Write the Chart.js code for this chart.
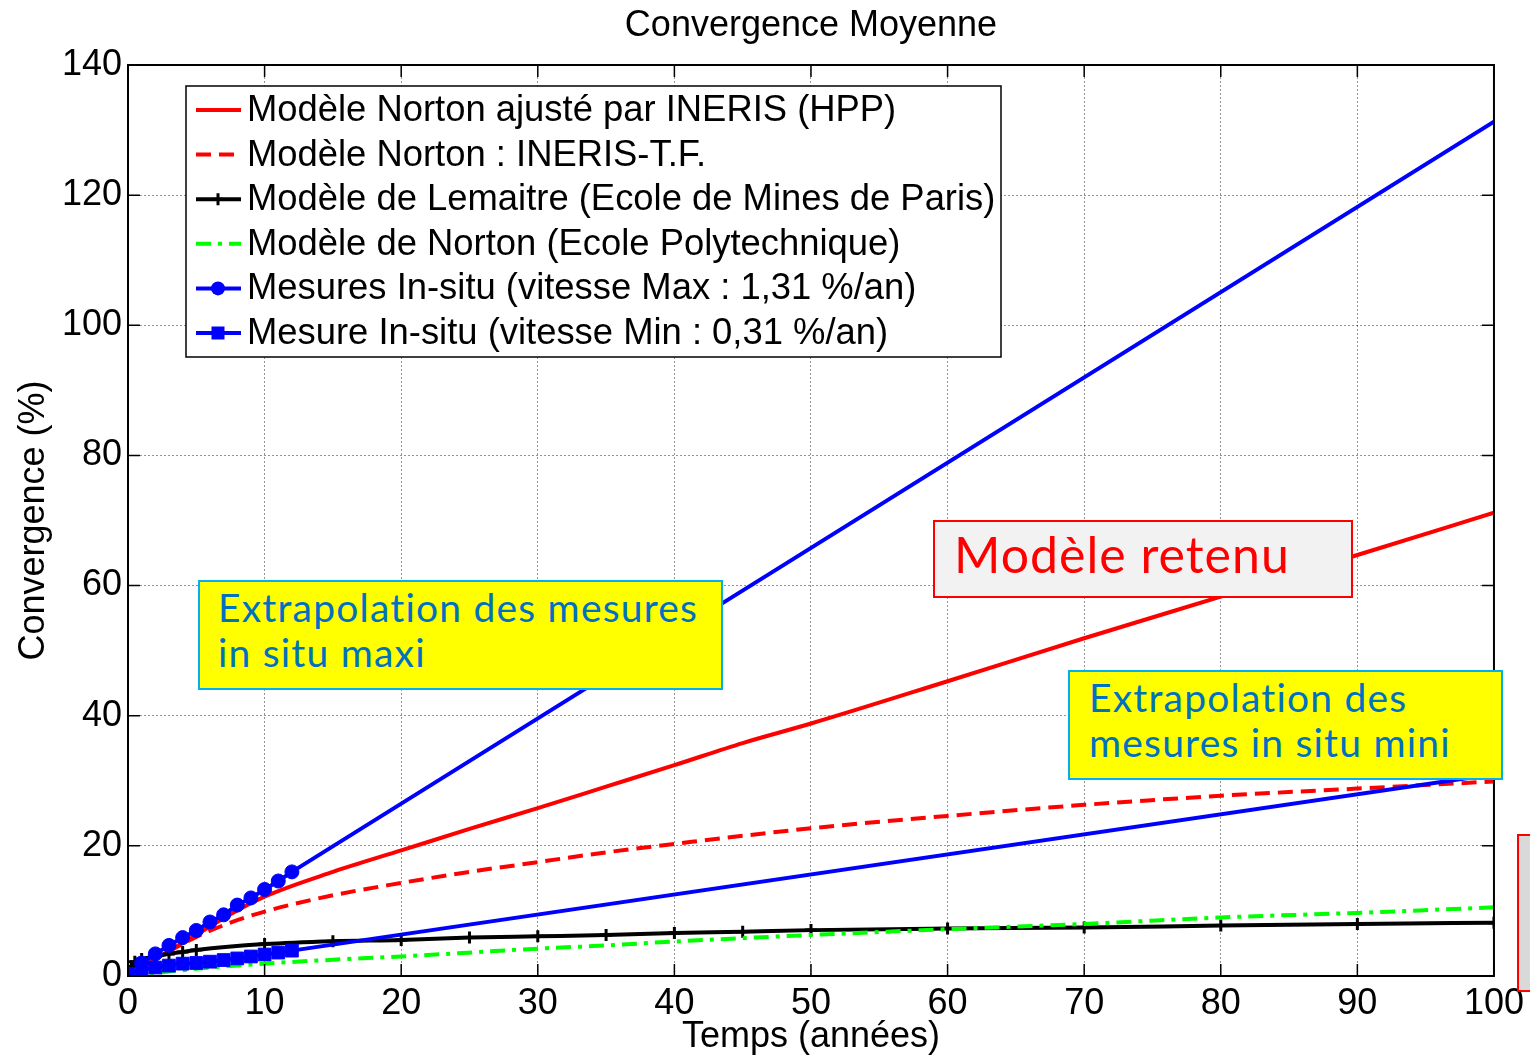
<!DOCTYPE html>
<html>
<head>
<meta charset="utf-8">
<title>Convergence Moyenne</title>
<script src="https://cdn.jsdelivr.net/npm/chart.js"></script>
<style>
  body {
    margin: 0;
    background: #fff;
    overflow: hidden;
  }
  .wrap {
    position: relative;
    width: 1530px;
    height: 1057px;
    overflow: hidden;
  }
  .note {
    position: absolute;
    box-sizing: border-box;
    font-family: Lato, "Open Sans", sans-serif;
    white-space: nowrap;
  }
  .note-blue {
    background: #ffff00;
    border: 2px solid #00b0f0;
    color: #0070c0;
    font-size: 39px;
    line-height: 45px;
    letter-spacing: 1.2px;
  }
  .note-red {
    background: #f2f2f2;
    border: 2px solid #ff0000;
    color: #ff0000;
    font-size: 50px;
    line-height: 60px;
    letter-spacing: 1px;
  }
</style>
</head>
<body>
<div class="wrap">
  <canvas id="chart"></canvas>
  <div class="note note-blue" style="left:198px; top:580px; width:525px; height:110px; padding:3px 0 0 18px;">Extrapolation des mesures<br>in situ maxi</div>
  <div class="note note-red" style="left:933px; top:520px; width:420px; height:78px; padding:2px 0 0 19px;">Modèle retenu</div>
  <div class="note note-blue" style="left:1068px; top:670px; width:435px; height:110px; padding:3px 0 0 19px;">Extrapolation des<br>mesures in situ mini</div>
  <div class="note" style="left:1517px; top:834px; width:40px; height:158px; background:#d9d9d9; border:2px solid #ff0000;"></div>
</div>

<script>
  // Modèle Norton ajusté par INERIS (HPP)
  const tempsHpp = [0, 2, 5, 7.5, 10, 15, 20, 25, 30, 35, 40, 45, 50, 60, 70, 80, 90, 100];
  const nortonHpp = [0, 2.6, 6.3, 9.5, 12.2, 16, 19.3, 22.6, 25.8, 29.1, 32.4, 35.8, 38.8, 45.3, 51.9, 58.3, 64.7, 71.2];

  // Modèle Norton : INERIS-T.F.
  const tempsTF = [0, 2, 5, 7.5, 10, 15, 20, 25, 30, 35, 40, 50, 60, 70, 80, 90, 100];
  const nortonTF = [0, 2.6, 6.0, 8.2, 9.9, 12.4, 14.3, 16.0, 17.5, 19.0, 20.3, 22.7, 24.6, 26.3, 27.7, 28.8, 29.9];

  // Modèle de Lemaitre
  const tempsLemaitre = [0, 0.25, 0.5, 1, 2, 3, 4, 5, 10, 15, 20, 25, 30, 35, 40, 45, 50, 60, 70, 80, 90, 100];
  const lemaitre = [0, 1.5, 2.2, 2.6, 3.0, 3.4, 3.7, 4.0, 4.9, 5.35, 5.55, 5.9, 6.1, 6.3, 6.6, 6.8, 7.05, 7.3, 7.45, 7.75, 8.0, 8.2];

  // Modèle de Norton (Ecole Polytechnique)
  const tempsPolytech = [0, 5, 10, 15, 20, 30, 35, 40, 50, 60, 70, 80, 90, 100];
  const polytech = [0, 1.1, 1.9, 2.5, 3.0, 4.2, 4.7, 5.3, 6.3, 7.2, 8.0, 9.0, 9.7, 10.55];

  // Mesures in-situ max (points mesurés puis extrapolation à 100 ans)
  const tempsMax = [1, 2, 3, 4, 5, 6, 7, 8, 9, 10, 11, 12, 100];
  const mesuresMax = [2.0, 3.4, 4.7, 5.9, 7.0, 8.3, 9.4, 10.9, 12.0, 13.3, 14.6, 16.0, 131.3];

  // Mesures in-situ min
  const tempsMin = [0, 1, 2, 3, 4, 5, 6, 7, 8, 9, 10, 11, 12, 100];
  const mesuresMin = [0.3, 0.9, 1.3, 1.6, 1.9, 2.0, 2.2, 2.45, 2.7, 3.0, 3.3, 3.6, 3.9, 31.0];

  const lastMesure = 12;

  const xTicks = [0, 10, 20, 30, 40, 50, 60, 70, 80, 90, 100];
  const yTicks = [0, 20, 40, 60, 80, 100, 120, 140];

  const FONT = '"Liberation Sans", Arial, sans-serif';
  Chart.defaults.font.family = FONT;
  Chart.defaults.color = '#000';

  function toXY(xs, ys) {
    return xs.map((x, i) => ({ x: x, y: ys[i] }));
  }

  function drawMarker(ctx, type, x, y, color) {
    ctx.save();
    ctx.fillStyle = color;
    ctx.strokeStyle = color;
    ctx.lineWidth = 3;
    ctx.beginPath();
    if (type === 'circle') {
      ctx.arc(x, y, 7, 0, Math.PI * 2);
      ctx.fill();
    } else if (type === 'rect') {
      ctx.fillRect(x - 6.5, y - 6.5, 13, 13);
    } else if (type === 'cross') {
      ctx.moveTo(x - 5, y); ctx.lineTo(x + 5, y);
      ctx.moveTo(x, y - 6); ctx.lineTo(x, y + 6);
      ctx.stroke();
    }
    ctx.restore();
  }

  const measuredRadius = (r) => (c) => (c.raw && c.raw.x <= lastMesure ? r : 0);

  const datasets = [
    {
      label: 'Modèle Norton ajusté par INERIS (HPP)',
      data: toXY(tempsHpp, nortonHpp),
      borderColor: '#ff0000',
      borderWidth: 4,
      pointRadius: 0,
      cubicInterpolationMode: 'monotone',
      order: 6
    },
    {
      label: 'Modèle Norton : INERIS-T.F.',
      data: toXY(tempsTF, nortonTF),
      borderColor: '#ff0000',
      borderWidth: 4,
      borderDash: [15, 8],
      pointRadius: 0,
      cubicInterpolationMode: 'monotone',
      order: 5
    },
    {
      label: 'Modèle de Lemaitre (Ecole de Mines de Paris)',
      data: toXY(tempsLemaitre, lemaitre),
      borderColor: '#000000',
      backgroundColor: '#000000',
      borderWidth: 4,
      pointStyle: 'cross',
      pointRadius: 6,
      pointBorderWidth: 3,
      cubicInterpolationMode: 'monotone',
      legendMarker: 'cross',
      order: 4
    },
    {
      label: 'Modèle de Norton (Ecole Polytechnique)',
      data: toXY(tempsPolytech, polytech),
      borderColor: '#00ff00',
      borderWidth: 4,
      borderDash: [15, 7, 4, 7],
      pointRadius: 0,
      cubicInterpolationMode: 'monotone',
      order: 3
    },
    {
      label: 'Mesures In-situ (vitesse Max : 1,31 %/an)',
      data: toXY(tempsMax, mesuresMax),
      borderColor: '#0000ff',
      backgroundColor: '#0000ff',
      borderWidth: 4,
      pointStyle: 'circle',
      pointRadius: measuredRadius(7),
      pointBorderWidth: 1,
      legendMarker: 'circle',
      order: 2
    },
    {
      label: 'Mesure In-situ (vitesse Min : 0,31 %/an)',
      data: toXY(tempsMin, mesuresMin),
      borderColor: '#0000ff',
      backgroundColor: '#0000ff',
      borderWidth: 4,
      pointStyle: 'rect',
      pointRadius: measuredRadius(9),
      pointBorderWidth: 1,
      legendMarker: 'rect',
      order: 1
    }
  ];

  // title centred over the plot area, MATLAB style
  const plotTitle = {
    id: 'plotTitle',
    afterDraw(chart) {
      const { ctx, chartArea: a } = chart;
      ctx.save();
      ctx.font = '36px ' + FONT;
      ctx.fillStyle = '#000';
      ctx.textAlign = 'center';
      ctx.textBaseline = 'middle';
      ctx.fillText('Convergence Moyenne', (a.left + a.right) / 2, 26);
      ctx.restore();
    }
  };

  // box with inward tick marks
  const frame = {
    id: 'frame',
    afterDatasetsDraw(chart) {
      const { ctx, chartArea: a, scales: { x, y } } = chart;
      ctx.save();
      ctx.strokeStyle = '#000';
      ctx.lineWidth = 2;
      ctx.strokeRect(a.left, a.top, a.right - a.left, a.bottom - a.top);
      ctx.lineWidth = 1.5;
      ctx.beginPath();
      xTicks.forEach(v => {
        const px = x.getPixelForValue(v);
        ctx.moveTo(px, a.bottom); ctx.lineTo(px, a.bottom - 12);
        ctx.moveTo(px, a.top); ctx.lineTo(px, a.top + 12);
      });
      yTicks.forEach(v => {
        const py = y.getPixelForValue(v);
        ctx.moveTo(a.left, py); ctx.lineTo(a.left + 12, py);
        ctx.moveTo(a.right, py); ctx.lineTo(a.right - 12, py);
      });
      ctx.stroke();
      ctx.restore();
    }
  };

  // legend box inside the plot, top left
  const legendBox = {
    id: 'legendBox',
    afterDatasetsDraw(chart) {
      const { ctx, chartArea: a } = chart;
      const x0 = a.left + 58, y0 = a.top + 21, w = 815, h = 271;
      ctx.save();
      ctx.fillStyle = '#fff';
      ctx.fillRect(x0, y0, w, h);
      ctx.strokeStyle = '#000';
      ctx.lineWidth = 1.5;
      ctx.strokeRect(x0, y0, w, h);
      ctx.font = '36.4px ' + FONT;
      ctx.textBaseline = 'middle';
      chart.data.datasets.forEach((ds, i) => {
        const cy = y0 + 24 + i * 44.6;
        ctx.setLineDash(ds.borderDash || []);
        ctx.strokeStyle = ds.borderColor;
        ctx.lineWidth = ds.borderWidth;
        ctx.beginPath();
        ctx.moveTo(x0 + 10, cy);
        ctx.lineTo(x0 + 55, cy);
        ctx.stroke();
        ctx.setLineDash([]);
        if (ds.legendMarker) drawMarker(ctx, ds.legendMarker, x0 + 32, cy, ds.borderColor);
        ctx.fillStyle = '#000';
        ctx.fillText(ds.label, x0 + 61, cy + 1);
      });
      ctx.restore();
    }
  };

  const canvas = document.getElementById('chart');
  canvas.width = 1530;
  canvas.height = 1057;
  canvas.style.width = '1530px';
  canvas.style.height = '1057px';

  new Chart(canvas.getContext('2d'), {
    type: 'line',
    data: { datasets: datasets },
    options: {
      responsive: false,
      animation: false,
      layout: { padding: { left: 0, right: 32, top: 65, bottom: 0 } },
      plugins: {
        legend: { display: false },
        tooltip: { enabled: false },
        title: { display: false }
      },
      scales: {
        x: {
          type: 'linear',
          min: 0,
          max: 100,
          afterBuildTicks: (s) => { s.ticks = xTicks.map(v => ({ value: v })); },
          afterFit: (s) => { s.height = 81; },
          ticks: { font: { size: 36 }, padding: 6, maxRotation: 0 },
          grid: { color: 'rgba(0,0,0,0.42)', lineWidth: 1, drawTicks: false },
          border: { display: false, dash: [2, 2] },
          title: {
            display: true,
            text: 'Temps (années)',
            font: { size: 36, lineHeight: 1.1 },
            padding: { top: 0, bottom: 0 }
          }
        },
        y: {
          min: 0,
          max: 140,
          afterBuildTicks: (s) => { s.ticks = yTicks.map(v => ({ value: v })); },
          afterFit: (s) => { s.width = 128; },
          ticks: { font: { size: 36 }, padding: 6 },
          grid: { color: 'rgba(0,0,0,0.42)', lineWidth: 1, drawTicks: false },
          border: { display: false, dash: [2, 2] },
          title: {
            display: true,
            text: 'Convergence (%)',
            font: { size: 36, lineHeight: 1.2 },
            padding: { top: 12, bottom: 0 }
          }
        }
      }
    },
    plugins: [frame, legendBox, plotTitle]
  });
</script>
</body>
</html>
